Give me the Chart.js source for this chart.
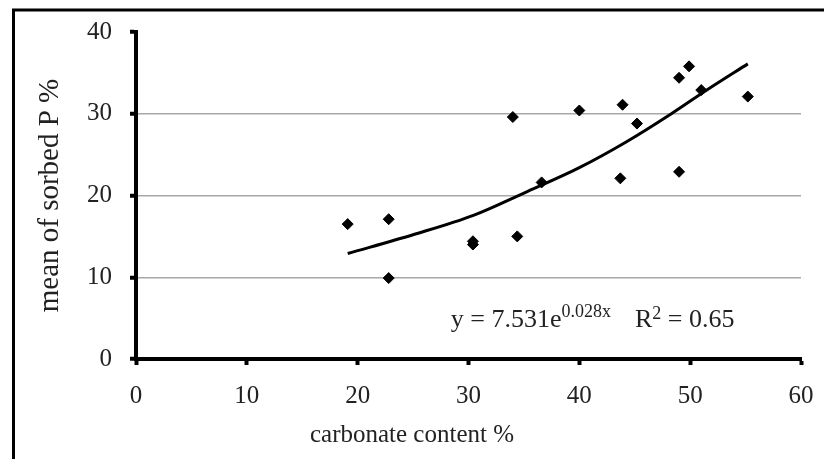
<!DOCTYPE html>
<html>
<head>
<meta charset="utf-8">
<script src="https://cdn.jsdelivr.net/npm/chart.js@4.4.0/dist/chart.umd.min.js"></script>
<style>
  html, body { margin: 0; padding: 0; background: #fff; }
  #wrap { position: relative; width: 824px; height: 459px; }
</style>
</head>
<body>
<div id="wrap"><canvas id="chart"></canvas></div>
<script>
// measured samples: carbonate content (%) vs mean sorbed P (%)
const carbonate = [19.1, 22.8, 22.8, 30.4, 30.4, 34.4, 34.0, 36.6, 40.0, 43.9, 43.7, 45.2, 49.0, 49.9, 51.0, 49.0, 55.2];
const sorbedP   = [16.5, 17.1,  9.9, 14.4, 14.0, 15.0, 29.6, 21.6, 30.4, 31.1, 22.1, 28.8, 34.4, 35.8, 32.9, 22.9, 32.1];

// exponential trend line
const trendX = [19.1, 25.0, 30.5, 35.0, 40.0, 44.3, 48.2, 51.5, 55.2];
const trendY = [12.9, 15.2, 17.6, 20.3, 23.4, 26.6, 29.9, 32.9, 36.1];

const xTicks = [0, 10, 20, 30, 40, 50, 60];
const yTicks = [0, 10, 20, 30, 40];

const xTitle = 'carbonate content %';
const yTitle = 'mean of sorbed P %';
const eqMain = 'y = 7.531e';
const eqExp = '0.028x';
const eqR = 'R';
const eqR2 = '2';
const eqVal = ' = 0.65';
const eqAt = [41.2, 4.9];

const serif = '"Liberation Serif", "Times New Roman", serif';
const textColor = '#222';

const pointData = carbonate.map((x, i) => ({ x: x, y: sorbedP[i] }));
const trendData = trendX.map((x, i) => ({ x: x, y: trendY[i] }));

// outer frame (only left and top edges are visible in the picture)
const framePlugin = {
  id: 'frame',
  beforeDraw(chart) {
    const ctx = chart.ctx;
    ctx.save();
    ctx.strokeStyle = '#000';
    ctx.lineWidth = 3;
    ctx.beginPath();
    ctx.moveTo(13.5, chart.height);
    ctx.lineTo(13.5, 10);
    ctx.lineTo(chart.width, 10);
    ctx.stroke();
    ctx.restore();
  }
};

// x axis title is centred on the whole figure, not on the plot area
const xTitlePlugin = {
  id: 'xTitle',
  afterDraw(chart) {
    const ctx = chart.ctx;
    ctx.save();
    ctx.fillStyle = textColor;
    ctx.font = '25px ' + serif;
    ctx.textAlign = 'center';
    ctx.textBaseline = 'alphabetic';
    ctx.fillText(xTitle, chart.width / 2, chart.scales.x.bottom - 17);
    ctx.restore();
  }
};

// trend equation text
const equationPlugin = {
  id: 'equation',
  afterDatasetsDraw(chart) {
    const ctx = chart.ctx;
    const xs = chart.scales.x, ys = chart.scales.y;
    const cx = xs.getPixelForValue(eqAt[0]);
    const cy = ys.getPixelForValue(eqAt[1]);
    const big = '26px ' + serif;
    const small = '18px ' + serif;
    const gap = 24;
    ctx.save();
    ctx.fillStyle = textColor;
    ctx.textBaseline = 'alphabetic';
    ctx.textAlign = 'left';
    ctx.font = big;
    const w1 = ctx.measureText(eqMain).width;
    const w3 = ctx.measureText(eqR).width;
    const w5 = ctx.measureText(eqVal).width;
    ctx.font = small;
    const w2 = ctx.measureText(eqExp).width;
    const w4 = ctx.measureText(eqR2).width;
    const total = w1 + w2 + gap + w3 + w4 + w5;
    let x = cx - total / 2;
    const base = cy + 8;
    ctx.font = big;
    ctx.fillText(eqMain, x, base); x += w1;
    ctx.font = small;
    ctx.fillText(eqExp, x, base - 10); x += w2 + gap;
    ctx.font = big;
    ctx.fillText(eqR, x, base); x += w3;
    ctx.font = small;
    ctx.fillText(eqR2, x, base - 8); x += w4;
    ctx.font = big;
    ctx.fillText(eqVal, x, base);
    ctx.restore();
  }
};

new Chart(document.getElementById('chart'), {
  type: 'scatter',
  data: {
    datasets: [
      {
        label: 'trend',
        data: trendData,
        showLine: true,
        borderColor: '#000',
        borderWidth: 3,
        pointRadius: 0,
        cubicInterpolationMode: 'monotone',
        fill: false
      },
      {
        label: 'samples',
        data: pointData,
        pointStyle: 'rectRot',
        pointRadius: 5.5,
        backgroundColor: '#000',
        borderColor: '#000',
        borderWidth: 1
      }
    ]
  },
  options: {
    responsive: true,
    maintainAspectRatio: false,
    animation: false,
    layout: { padding: { left: 0, right: 23, top: 32, bottom: 0 } },
    plugins: {
      legend: { display: false },
      tooltip: { enabled: false }
    },
    scales: {
      x: {
        type: 'linear',
        min: xTicks[0],
        max: xTicks[xTicks.length - 1],
        afterBuildTicks: s => { s.ticks = xTicks.map(v => ({ value: v })); },
        afterFit: s => { s.height = 100; s.paddingLeft = 0; s.paddingRight = 0; },
        ticks: { padding: 16, color: textColor, font: { family: serif, size: 25 } },
        grid: { drawOnChartArea: false, drawTicks: true, tickLength: 6, tickWidth: 4, tickColor: '#000' },
        border: { display: true, color: '#000', width: 4 },
        title: { display: false }
      },
      y: {
        min: yTicks[0],
        max: yTicks[yTicks.length - 1],
        afterBuildTicks: s => { s.ticks = yTicks.map(v => ({ value: v })); },
        afterFit: s => { s.width = 136; s.paddingTop = 0; s.paddingBottom = 0; },
        ticks: { padding: 18, color: textColor, font: { family: serif, size: 25 } },
        grid: {
          color: c => (c.tick && c.tick.value > yTicks[0] && c.tick.value < yTicks[yTicks.length - 1]) ? '#a8a8a8' : 'rgba(0,0,0,0)',
          lineWidth: 1.5,
          drawTicks: true, tickLength: 6, tickWidth: 4, tickColor: '#000'
        },
        border: { display: true, color: '#000', width: 4 },
        title: {
          display: true, text: yTitle, color: textColor,
          font: { family: serif, size: 29 },
          padding: { top: 33, bottom: 0 }
        }
      }
    }
  },
  plugins: [framePlugin, xTitlePlugin, equationPlugin]
});
</script>
</body>
</html>
